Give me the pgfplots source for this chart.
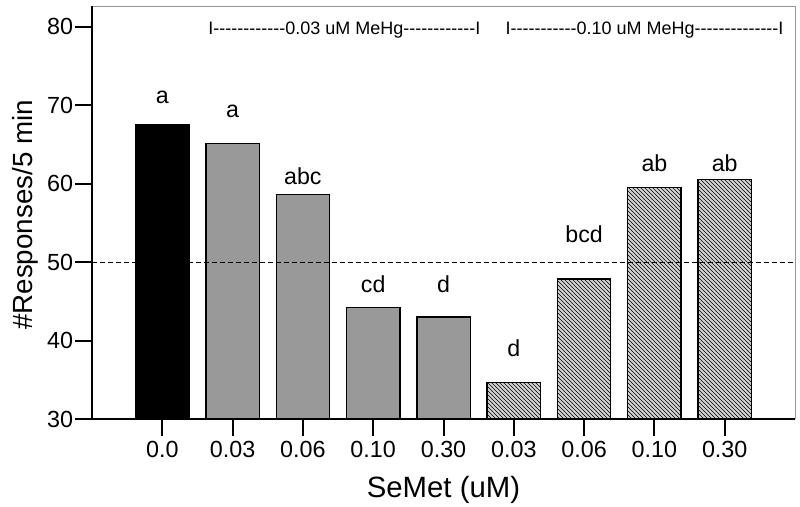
\documentclass[border=0pt]{standalone}
\usepackage{pgfplots}
\pgfplotsset{compat=1.18}
\usetikzlibrary{patterns}
\usepackage{fontspec}
\setmainfont{Liberation Sans}
\newfontfamily\nolig{Liberation Sans}[Ligatures=TeXOff]
\definecolor{midgray}{RGB}{153,153,153}
\definecolor{hatchbg}{RGB}{212,212,212}
\definecolor{framegray}{RGB}{150,150,150}
\begin{document}
\begin{tikzpicture}
\useasboundingbox (-69pt,-66pt) rectangle (531pt,314.25pt);
\begin{axis}[
  at={(0,0)}, anchor=south west,
  scale only axis, width=527.25pt, height=309.75pt,
  xmin=-1, xmax=9, ymin=30, ymax=82.64,
  axis lines*=left,
  axis line style={line width=1pt, black},
  axis on top,
  clip=false,
  ybar, bar width=40pt, bar shift=0pt,
  xtick={0,1,2,3,4,5,6,7,8},
  xticklabels={0.0,0.03,0.06,0.10,0.30,0.03,0.06,0.10,0.30},
  ytick={30,40,50,60,70,80},
  tick align=outside,
  major tick length=12.5pt,
  tick style={line width=1.5pt, black},
  /pgf/number format/assume math mode=true,
  yticklabel style={inner sep=1.5pt, font=\fontsize{17.5}{19}\selectfont},
  xticklabel style={inner sep=4pt, font=\fontsize{17.5}{19}\selectfont},
]
\addplot[fill=black, draw=black, line width=1pt] coordinates {(0,67.55)};
\addplot[fill=midgray, draw=black, line width=1pt] coordinates {(1,65.1) (2,58.6) (3,44.2) (4,43.0)};
\addplot[fill=hatchbg, draw=black, line width=1pt, postaction={pattern=north west lines}] coordinates {(5,34.65) (6,47.85) (7,59.5) (8,60.5)};
\draw[dash pattern=on 3.75pt off 2.25pt, line width=0.75pt] (axis cs:-1,50) -- (axis cs:9,50);
\draw[framegray, line width=0.75pt] (rel axis cs:0,1) -- (rel axis cs:1,1) -- (rel axis cs:1,0);
\begin{scope}[every node/.style={font=\fontsize{17.4}{19}\selectfont, inner sep=0pt}]
\node at (axis cs:0,71.0) {a};
\node at (axis cs:1,69.2) {a};
\node at (axis cs:2,60.9) {abc};
\node at (axis cs:3,47.2) {cd};
\node at (axis cs:4,47.2) {d};
\node at (axis cs:5,39.0) {d};
\node at (axis cs:6,53.5) {bcd};
\node at (axis cs:7,62.6) {ab};
\node at (axis cs:8,62.6) {ab};
\end{scope}
\begin{scope}[every node/.style={font=\nolig\fontsize{13.5}{15}\selectfont, inner sep=0pt, anchor=base}]
\node at (axis cs:2.59,79.04) {I------------0.03 uM MeHg------------I};
\node at (axis cs:6.86,79.04) {I-----------0.10 uM MeHg--------------I};
\end{scope}
\end{axis}
\node[rotate=90, anchor=base, font=\fontsize{20.8}{22}\selectfont, inner sep=0pt] at (-44.25pt,153pt) {\#Responses/5 min};
\node[anchor=base, font=\fontsize{22}{24}\selectfont, inner sep=0pt] at (263.6pt,-58.5pt) {SeMet (uM)};
\end{tikzpicture}
\end{document}
